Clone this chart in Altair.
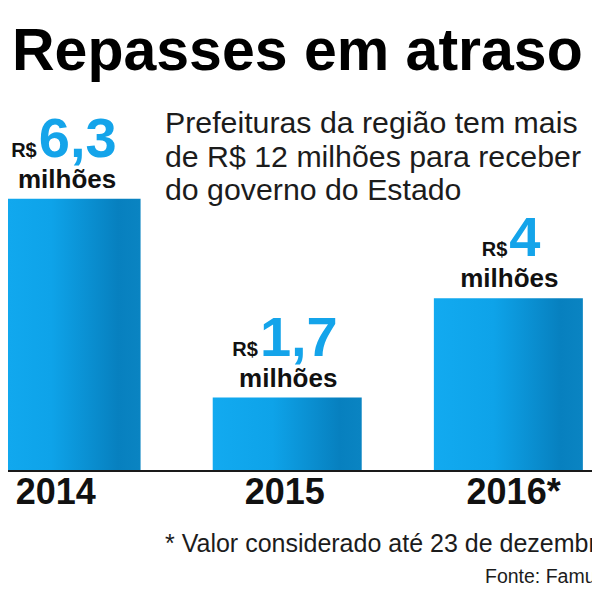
import altair as alt
import pandas as pd

# ---- data ----
years = [2014, 2015, 2016]
year_labels = ["2014", "2015", "2016*"]
values = [6.3, 1.7, 4.0]

title_text = "Repasses em atraso"
subtitle_lines = ["Prefeituras da região tem mais",
                  "de R$ 12 milhões para receber",
                  "do governo do Estado"]
footnote_text = "* Valor considerado até 23 de dezembro"
source_text = "Fonte: Famurs"

df = pd.DataFrame({"year": years, "year_label": year_labels, "value": values})
one = pd.DataFrame({"k": [0]})

W, H = 584, 576
FONT = "Liberation Sans"
BLUE = "#14a4ea"
INK = "#111111"

# x: 225 px per year, 2014 bar centred at x=54 of the plot
X0 = 2013.76
xscale = alt.Scale(domain=[X0, X0 + W / 225], nice=False, zero=False)
# y: 43.2 px per million, baseline at y=463 of the plot
yscale = alt.Scale(domain=[463 / 43.2 - H / 43.2, 463 / 43.2], nice=False, zero=False)

base = alt.Chart(df).transform_calculate(
    label="replace(format(datum.value, '.1~f'), '.', ',')",
    zero="0",
    xlab="2015 + (datum.year - 2015) * 1.035",
).transform_calculate(
    split="datum.year + (1 - 14.4 * (length(datum.label) - 1)) / 225"
)

grad = alt.Gradient(
    gradient="linear", x1=0, x2=1, y1=0, y2=0,
    stops=[
        alt.GradientStop(color="#12aaf0", offset=0),
        alt.GradientStop(color="#0ea3e9", offset=0.4),
        alt.GradientStop(color="#0780bf", offset=0.85),
        alt.GradientStop(color="#0a84c2", offset=1),
    ],
)

bars = base.mark_bar(size=149, clip=True, color=grad).encode(
    x=alt.X("year:Q", scale=xscale, axis=None),
    y=alt.Y("value:Q", scale=yscale, axis=None),
    y2="zero:Q",
)

axis_line = alt.Chart(one).transform_calculate(zero="0").mark_rule(
    color="#1a1a1a", strokeWidth=2
).encode(
    y=alt.Y("zero:Q", scale=yscale, axis=None),
    x=alt.value(0), x2=alt.value(W)
)

numbers = base.mark_text(
    align="left", baseline="alphabetic", dy=-42, fontSize=56,
    fontWeight="bold", font=FONT, color=BLUE
).encode(x=alt.X("split:Q", scale=xscale, axis=None),
         y=alt.Y("value:Q", scale=yscale, axis=None),
         text="label:N")

currency = base.mark_text(
    align="right", baseline="alphabetic", dx=-2, dy=-42, fontSize=20,
    fontWeight="bold", font=FONT, color=INK, text="R$"
).encode(x=alt.X("split:Q", scale=xscale, axis=None),
         y=alt.Y("value:Q", scale=yscale, axis=None))

unit = base.mark_text(
    align="center", baseline="alphabetic", dx=1, dy=-11, fontSize=26,
    fontWeight="bold", font=FONT, color=INK, text="milhões"
).encode(x=alt.X("year:Q", scale=xscale, axis=None),
         y=alt.Y("value:Q", scale=yscale, axis=None))

year_text = base.mark_text(
    align="center", baseline="alphabetic", dx=-2.5, dy=33, fontSize=36,
    fontWeight="bold", font=FONT, color=INK
).encode(x=alt.X("xlab:Q", scale=xscale, axis=None),
         y=alt.Y("zero:Q", scale=yscale, axis=None),
         text="year_label:N")

title = alt.Chart(one).mark_text(
    align="left", baseline="alphabetic", fontSize=59, fontWeight="bold",
    font=FONT, color="#000000", text=title_text
).encode(x=alt.value(4), y=alt.value(62))

subtitle = alt.Chart(one).mark_text(
    align="left", baseline="alphabetic", fontSize=30.3, font=FONT,
    color="#1c1c1c", text=subtitle_lines, lineHeight=33.5
).encode(x=alt.value(157), y=alt.value(125))

footnote = alt.Chart(one).mark_text(
    align="left", baseline="alphabetic", fontSize=25, font=FONT,
    color="#1c1c1c", text=footnote_text
).encode(x=alt.value(157), y=alt.value(544))

source = alt.Chart(one).mark_text(
    align="left", baseline="alphabetic", fontSize=19.5, font=FONT,
    color="#1c1c1c", text=source_text
).encode(x=alt.value(477), y=alt.value(575))

chart = alt.layer(
    bars, axis_line, numbers, currency, unit, year_text,
    title, subtitle, footnote, source
).properties(
    width=W, height=H, padding=0,
    autosize=alt.AutoSizeParams(type="none"),
    background="white",
).configure_view(strokeWidth=0)

chart.save("out.html", embed_options={"renderer": "svg", "actions": False})
